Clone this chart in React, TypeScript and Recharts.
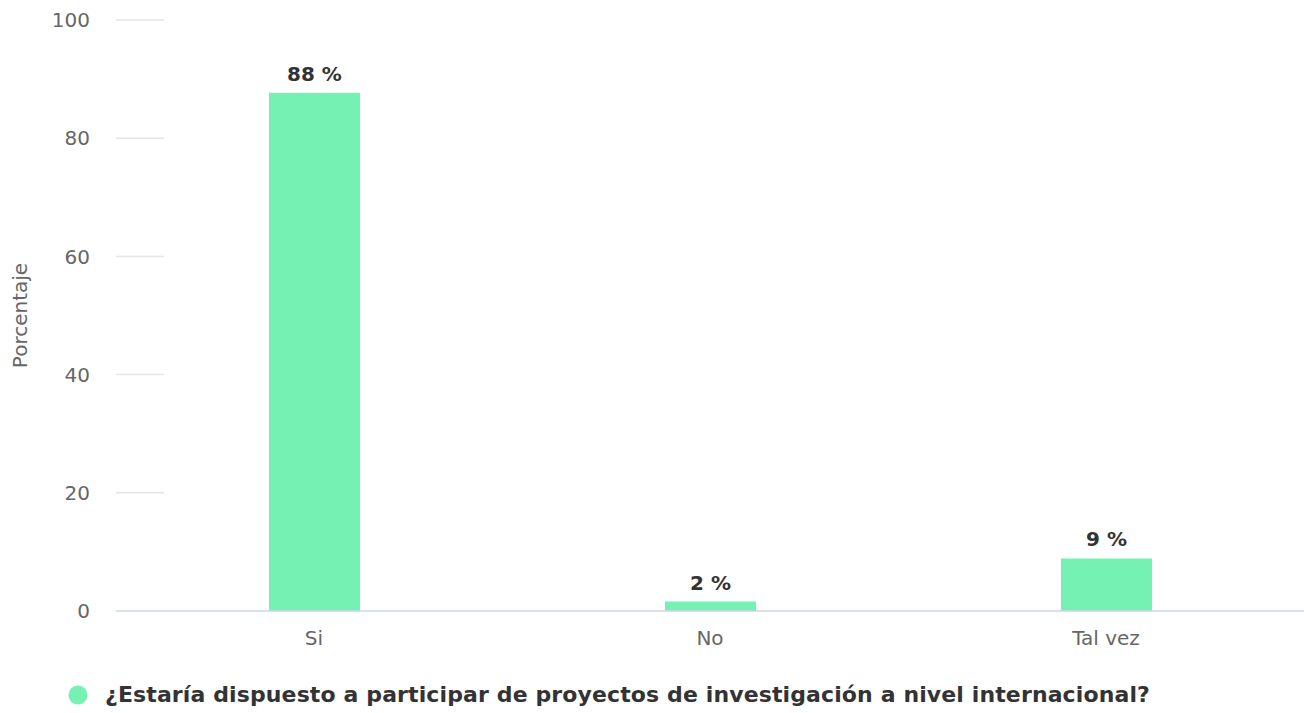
import React from "react";
import { BarChart, Bar, XAxis, YAxis, CartesianGrid, LabelList, Legend } from "recharts";

const categories = ["Si", "No", "Tal vez"];
const values = [87.7, 1.6, 8.9];
const valueLabels = ["88 %", "2 %", "9 %"];
const yTicks = [0, 20, 40, 60, 80, 100];
const seriesName = "¿Estaría dispuesto a participar de proyectos de investigación a nivel internacional?";

const data = categories.map((c, i) => ({ name: c, value: values[i], label: valueLabels[i] }));

const FONT = "'DejaVu Sans', Verdana, sans-serif";
const GREEN = "#76f1b4";

const LegendContent = () => (
  <div style={{ display: "flex", alignItems: "center", paddingLeft: 68, paddingTop: 19, fontFamily: FONT }}>
    <svg width={20} height={20} style={{ marginRight: 17 }}>
      <circle cx={10} cy={10} r={9.5} fill={GREEN} />
    </svg>
    <span style={{ fontSize: 22, fontWeight: "bold", color: "#333333", whiteSpace: "nowrap", letterSpacing: 0.12 }}>{seriesName}</span>
  </div>
);

export default function App() {
  return (
    <div style={{ position: "absolute", left: 0, top: 0, width: 1304, height: 713, background: "#fff" }}>
      <BarChart
        width={1304}
        height={713}
        data={data}
        margin={{ top: 20, right: 0, left: 0, bottom: 0 }}
        barSize={91}
      >
        <CartesianGrid
          vertical={false}
          horizontal={(p: any) =>
            p.y1 > 605 ? <g key={p.key} /> : (
              <line key={p.key} x1={p.x1} x2={p.x1 + 48} y1={p.y1} y2={p.y2} stroke="#e6e6e6" strokeWidth={1.5} />
            )
          }
        />
        <XAxis
          dataKey="name"
          axisLine={{ stroke: "#ccd6eb", strokeWidth: 1.5 }}
          tickLine={false}
          height={52}
          tick={{ fill: "#666666", fontSize: 20, fontFamily: FONT, dy: 12 }}
        />
        <YAxis
          domain={[0, 100]}
          ticks={yTicks}
          axisLine={false}
          tickLine={false}
          width={116}
          tick={{ fill: "#666666", fontSize: 20, fontFamily: FONT, dx: -18 }}
          label={{ value: "Porcentaje", angle: -90, position: "insideLeft", offset: 20, style: { fill: "#666666", fontSize: 20, fontFamily: FONT, textAnchor: "middle" } }}
        />
        <Legend verticalAlign="bottom" height={50} content={() => <LegendContent />} />
        <Bar dataKey="value" fill={GREEN} isAnimationActive={false}>
          <LabelList dataKey="label" position="top" offset={12} style={{ fill: "#333333", fontSize: 20, fontWeight: "bold", fontFamily: FONT }} />
        </Bar>
      </BarChart>
    </div>
  );
}
